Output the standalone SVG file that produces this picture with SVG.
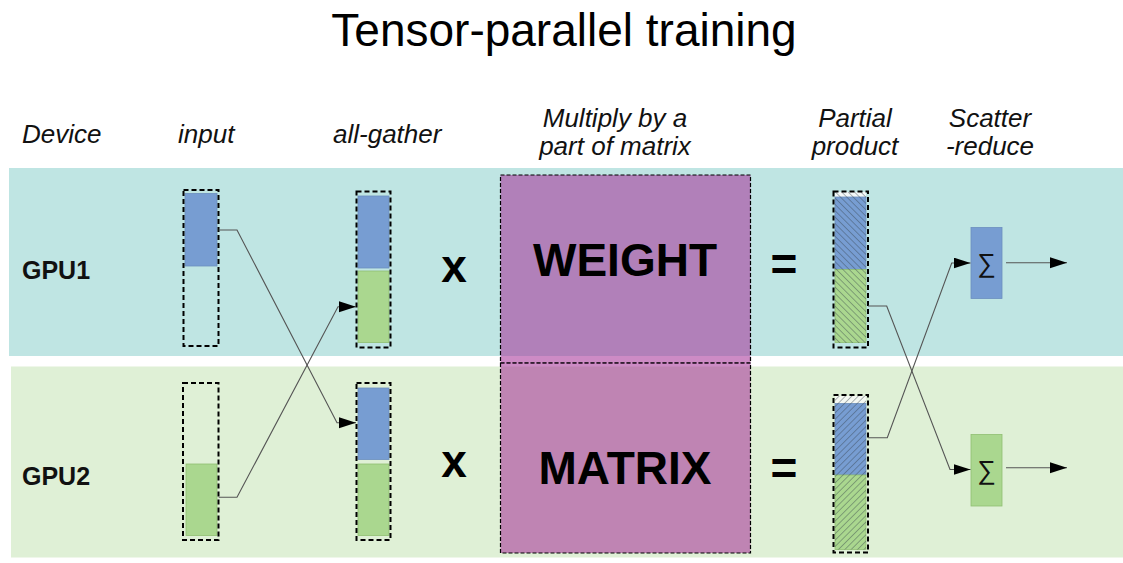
<svg xmlns="http://www.w3.org/2000/svg" width="1123" height="563" viewBox="0 0 1123 563">
<defs>
<style>
.hdr{font-family:"Liberation Sans",Arial,sans-serif;font-style:italic;font-size:26px;fill:#111}
.gpu{font-family:"Liberation Sans",Arial,sans-serif;font-weight:bold;font-size:25px;fill:#111}
.op{font-family:"Liberation Sans",Arial,sans-serif;font-weight:bold;font-size:46px;fill:#000;text-anchor:middle}
.big{font-family:"Liberation Sans",Arial,sans-serif;font-weight:bold;font-size:46px;fill:#000;text-anchor:middle}
.sig{font-family:"Liberation Sans","DejaVu Sans",sans-serif;font-size:26px;fill:#111;text-anchor:middle}
.col{fill:none;stroke:#000;stroke-width:2;stroke-dasharray:5 3}
.mat{fill:#a53097;fill-opacity:0.56;stroke:#000;stroke-width:1.2;stroke-dasharray:4 2}
.blue{fill:#779dd2;stroke:#6c8ebf;stroke-width:0.8}
.green{fill:#aad78f;stroke:#8fbf72;stroke-width:0.8}
.conn{fill:none;stroke:#555;stroke-width:1.1}
</style>
<pattern id="hatchA" patternUnits="userSpaceOnUse" width="4.5" height="4.5" patternTransform="rotate(-45)">
<line x1="0" y1="0" x2="0" y2="4.5" stroke="#34404a" stroke-width="1"/>
</pattern>
<pattern id="hatchB" patternUnits="userSpaceOnUse" width="4.5" height="4.5" patternTransform="rotate(45)">
<line x1="0" y1="0" x2="0" y2="4.5" stroke="#34404a" stroke-width="1"/>
</pattern>
<marker id="arr" markerUnits="userSpaceOnUse" markerWidth="18" markerHeight="12" refX="17" refY="5.5" orient="auto">
<path d="M0,0 L17,5.5 L0,11 z" fill="#000"/>
</marker>
</defs>
<rect width="1123" height="563" fill="#fff"/>
<text x="564" y="46" font-family="Liberation Sans, Arial, sans-serif" font-size="46" text-anchor="middle" fill="#000">Tensor-parallel training</text>

<g id="headers">
<text class="hdr" x="22" y="143">Device</text>
<text class="hdr" x="178" y="143">input</text>
<text class="hdr" x="333" y="143">all-gather</text>
<text class="hdr" x="615" y="127" text-anchor="middle">Multiply by a</text>
<text class="hdr" x="615" y="155" text-anchor="middle">part of matrix</text>
<text class="hdr" x="855" y="127" text-anchor="middle">Partial</text>
<text class="hdr" x="855" y="155" text-anchor="middle">product</text>
<text class="hdr" x="990" y="127" text-anchor="middle">Scatter</text>
<text class="hdr" x="990" y="155" text-anchor="middle">-reduce</text>
</g>

<g id="band-gpu1">
<rect x="9" y="168" width="1114" height="188" fill="#bfe5e3"/>
<text class="gpu" x="22" y="279">GPU1</text>
</g>
<g id="band-gpu2">
<rect x="11" y="366.5" width="1112" height="191" fill="#dff0d6"/>
<text class="gpu" x="22" y="485">GPU2</text>
</g>

<g id="input-gpu1">
<rect class="blue" x="185" y="193.5" width="32" height="72.5"/>
<rect class="col" x="183.5" y="190" width="35" height="156"/>
</g>
<g id="input-gpu2">
<rect class="green" x="186" y="464" width="31" height="71.5"/>
<rect class="col" x="183" y="383" width="35.5" height="157"/>
</g>

<g id="allgather-gpu1">
<rect class="blue" x="358" y="196" width="31" height="72"/>
<rect class="green" x="358" y="271" width="31" height="71.5"/>
<rect class="col" x="356.5" y="191.5" width="34" height="156"/>
</g>
<g id="allgather-gpu2">
<rect class="blue" x="358" y="388" width="31" height="71.5"/>
<rect class="green" x="358" y="464" width="31" height="71.5"/>
<rect class="col" x="356.5" y="383" width="34" height="157"/>
</g>

<g id="times-gpu1"><text class="op" x="454" y="282">x</text></g>
<g id="times-gpu2"><text class="op" x="454" y="477">x</text></g>

<g id="weight">
<rect class="mat" x="500.5" y="175" width="250" height="188"/>
<text class="big" x="625" y="276">WEIGHT</text>
</g>
<g id="matrix">
<rect class="mat" x="500.5" y="363" width="250" height="190"/>
<text class="big" x="625" y="484">MATRIX</text>
</g>

<g id="equals-gpu1"><text class="op" x="784" y="280">=</text></g>
<g id="equals-gpu2"><text class="op" x="784" y="484">=</text></g>

<g id="partial-gpu1">
<rect x="835" y="192" width="31" height="5" fill="#f4f8f8"/>
<rect class="blue" x="835" y="197" width="31" height="72.5"/>
<rect class="green" x="835" y="269.5" width="31" height="73"/>
<rect x="835" y="192" width="31" height="151" fill="url(#hatchA)" opacity="0.75"/>
<rect class="col" x="833.5" y="191.5" width="34.5" height="156"/>
</g>
<g id="partial-gpu2">
<rect x="835" y="396" width="31" height="7.5" fill="#f4f8f2"/>
<rect class="blue" x="835" y="403.5" width="31" height="71.5"/>
<rect class="green" x="835" y="475" width="31" height="74.5"/>
<rect x="835" y="396" width="31" height="153.5" fill="url(#hatchB)" opacity="0.75"/>
<rect class="col" x="833.5" y="395" width="34.5" height="157.5"/>
</g>

<g id="sum-gpu1">
<rect class="blue" x="971" y="227.5" width="31" height="71"/>
<text class="sig" x="986.5" y="272">∑</text>
</g>
<g id="sum-gpu2">
<rect class="green" x="971" y="434.5" width="31" height="71.5"/>
<text class="sig" x="986.5" y="479">∑</text>
</g>

<g id="connectors">
<path class="conn" d="M218.7,230 L237,230 L337,422.7 L356,422.7" marker-end="url(#arr)"/>
<path class="conn" d="M218.7,497.3 L237,497.3 L338,306.7 L356,306.7" marker-end="url(#arr)"/>
<path class="conn" d="M868,306 L886.7,306 L950,469.5 L970.5,469.5" marker-end="url(#arr)"/>
<path class="conn" d="M868,437.7 L887.3,437.7 L951.7,263 L970.5,263" marker-end="url(#arr)"/>
<path class="conn" d="M1006,262.7 L1067,262.7" marker-end="url(#arr)"/>
<path class="conn" d="M1006,467.7 L1067,467.7" marker-end="url(#arr)"/>
</g>
</svg>
